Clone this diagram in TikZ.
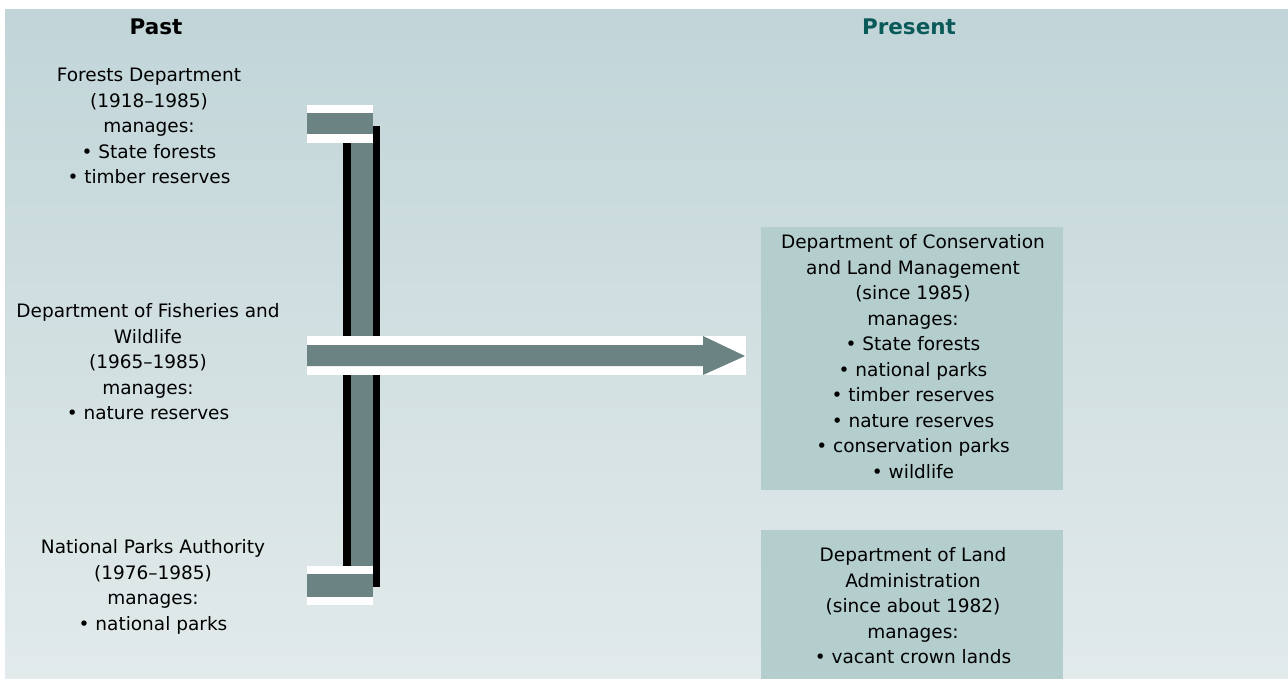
\documentclass[tikz,border=0pt]{standalone}
\usepackage{fontspec}
\setmainfont{DejaVu Sans}
\definecolor{bgtop}{HTML}{C1D5D8}
\definecolor{bgbot}{HTML}{E2EAEB}
\definecolor{boxfill}{HTML}{B4CDCD}
\definecolor{barfill}{HTML}{6C8384}
\definecolor{presentcol}{HTML}{0B5A5A}
\tikzset{
  txt/.style={align=center, font=\fontsize{18.5}{25.5}\selectfont, inner sep=0pt},
  head/.style={font=\fontsize{21.5}{25}\selectfont\bfseries, inner sep=0pt},
  bar/.style={fill=barfill, draw=none},
  band/.style={fill=white, draw=none},
  shadow/.style={fill=black, draw=none},
  infobox/.style={fill=boxfill, draw=none}
}
\begin{document}
\begin{tikzpicture}[x=1pt,y=-1pt]
\useasboundingbox (0,0) rectangle (1288,679);
\fill[white] (0,0) rectangle (1288,679);
\shade[top color=bgtop, bottom color=bgbot] (5,10) rectangle (1288,679);
% headers
\node[head] (past) at (156,27) {Past};
\node[head, text=presentcol] (present) at (909,27) {Present};
% vertical bar
\fill[shadow] (343,126) rectangle (380,587);
\fill[bar] (351,125) rectangle (373,580);
% top stub
\fill[band] (307,105) rectangle (373,143);
\fill[bar] (307,113) rectangle (373,134);
% bottom stub
\fill[band] (307,566) rectangle (373,605);
\fill[bar] (307,574) rectangle (373,597);
% middle arrow
\fill[band] (307,336) rectangle (746,375);
\coordinate (arrstart) at (307,356);
\coordinate (arrtip) at (745,356);
\fill[bar] (arrstart) |- (703,345) -- (703,336) -- (arrtip) -- (703,375) -- (703,366) -| (arrstart);
% boxes
\fill[infobox] (761,227) rectangle (1063,490);
\fill[infobox] (761,530) rectangle (1063,679);
% left texts
\node[txt] (forests) at (149,126) {Forests Department\\(1918–1985)\\manages:\\• State forests\\• timber reserves};
\node[txt] (fisheries) at (148,362) {Department of Fisheries and\\Wildlife\\(1965–1985)\\manages:\\• nature reserves};
\node[txt] (npa) at (153,587) {National Parks Authority\\(1976–1985)\\manages:\\• national parks};
% right texts
\node[txt] (calm) at (913,356.5) {Department of Conservation\\and Land Management\\(since 1985)\\manages:\\• State forests\\• national parks\\• timber reserves\\• nature reserves\\• conservation parks\\• wildlife};
\node[txt] (dola) at (913,606) {Department of Land\\Administration\\(since about 1982)\\manages:\\• vacant crown lands};
\end{tikzpicture}
\end{document}
